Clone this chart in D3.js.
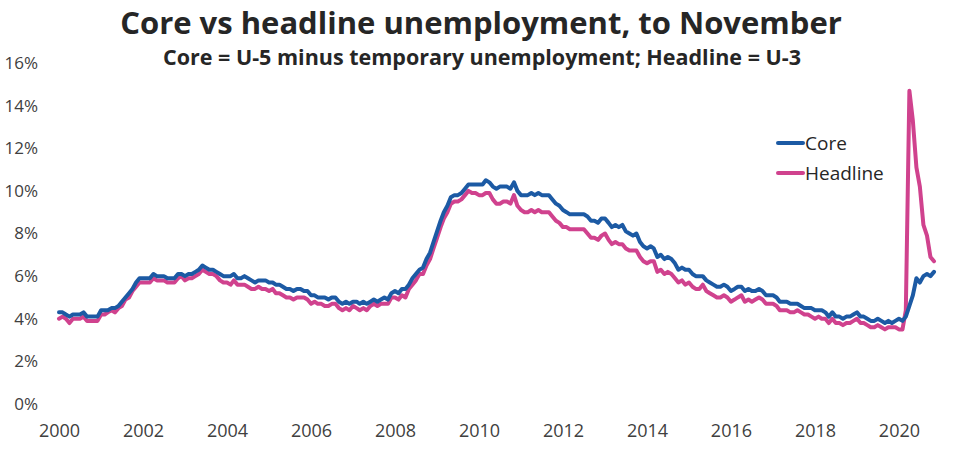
<!DOCTYPE html>
<html>
<head>
<meta charset="utf-8">
<script src="https://cdn.jsdelivr.net/npm/d3@7"></script>
<style>
  html, body { margin: 0; padding: 0; background: #fff; }
  svg text { font-family: "Open Sans", sans-serif; }
</style>
</head>
<body>
<div id="chart"></div>
<script>
// monthly, Jan 2000 .. Nov 2020
const startMonth = new Date(2000, 0, 1);

const headline = [
  4.0, 4.1, 4.0, 3.8, 4.0, 4.0, 4.0, 4.1, 3.9, 3.9, 3.9, 3.9,
  4.2, 4.2, 4.3, 4.4, 4.3, 4.5, 4.6, 4.9, 5.0, 5.3, 5.5, 5.7,
  5.7, 5.7, 5.7, 5.9, 5.8, 5.8, 5.8, 5.7, 5.7, 5.7, 5.9, 6.0,
  5.8, 5.9, 5.9, 6.0, 6.1, 6.3, 6.2, 6.1, 6.1, 6.0, 5.8, 5.7,
  5.7, 5.6, 5.8, 5.6, 5.6, 5.6, 5.5, 5.4, 5.4, 5.5, 5.4, 5.4,
  5.3, 5.4, 5.2, 5.2, 5.1, 5.0, 5.0, 4.9, 5.0, 5.0, 5.0, 4.9,
  4.7, 4.8, 4.7, 4.7, 4.6, 4.6, 4.7, 4.7, 4.5, 4.4, 4.5, 4.4,
  4.6, 4.5, 4.4, 4.5, 4.4, 4.6, 4.7, 4.6, 4.7, 4.7, 4.7, 5.0,
  5.0, 4.9, 5.1, 5.0, 5.4, 5.6, 5.8, 6.1, 6.1, 6.5, 6.8, 7.3,
  7.8, 8.3, 8.7, 9.0, 9.4, 9.5, 9.5, 9.6, 9.8, 10.0, 9.9, 9.9,
  9.8, 9.8, 9.9, 9.9, 9.6, 9.4, 9.4, 9.5, 9.5, 9.4, 9.8, 9.3,
  9.1, 9.0, 9.0, 9.1, 9.0, 9.1, 9.0, 9.0, 9.0, 8.8, 8.6, 8.5,
  8.3, 8.3, 8.2, 8.2, 8.2, 8.2, 8.2, 8.0, 7.8, 7.8, 7.7, 7.9,
  8.0, 7.7, 7.5, 7.6, 7.5, 7.5, 7.3, 7.2, 7.2, 7.2, 6.9, 6.7,
  6.6, 6.7, 6.7, 6.2, 6.3, 6.1, 6.2, 6.1, 5.9, 5.7, 5.8, 5.6,
  5.7, 5.5, 5.4, 5.4, 5.6, 5.3, 5.2, 5.1, 5.0, 5.0, 5.1, 5.0,
  4.8, 4.9, 5.0, 5.1, 4.8, 4.9, 4.8, 4.9, 5.0, 4.9, 4.7, 4.7,
  4.7, 4.6, 4.4, 4.4, 4.4, 4.3, 4.3, 4.4, 4.3, 4.2, 4.2, 4.1,
  4.0, 4.1, 4.0, 4.0, 3.8, 4.0, 3.8, 3.8, 3.7, 3.8, 3.8, 3.9,
  4.0, 3.8, 3.8, 3.7, 3.6, 3.6, 3.7, 3.6, 3.5, 3.6, 3.6, 3.6,
  3.5, 3.5, 4.4, 14.7, 13.3, 11.1, 10.2, 8.4, 7.9, 6.9, 6.7
];

const core = [
  4.3, 4.3, 4.2, 4.1, 4.2, 4.2, 4.2, 4.3, 4.1, 4.1, 4.1, 4.1,
  4.4, 4.4, 4.4, 4.5, 4.5, 4.6, 4.8, 5.0, 5.2, 5.4, 5.7, 5.9,
  5.9, 5.9, 5.9, 6.1, 6.0, 6.0, 6.0, 5.9, 5.9, 5.9, 6.1, 6.1,
  6.0, 6.1, 6.1, 6.2, 6.3, 6.5, 6.4, 6.3, 6.3, 6.2, 6.1, 6.0,
  6.0, 6.0, 6.1, 5.9, 5.9, 6.0, 5.9, 5.8, 5.7, 5.8, 5.8, 5.8,
  5.7, 5.7, 5.6, 5.6, 5.5, 5.4, 5.4, 5.3, 5.4, 5.4, 5.3, 5.3,
  5.1, 5.1, 5.0, 5.0, 5.0, 4.9, 5.0, 5.0, 4.8, 4.7, 4.8, 4.7,
  4.8, 4.8, 4.7, 4.8, 4.7, 4.8, 4.9, 4.8, 4.9, 5.0, 4.9, 5.2,
  5.3, 5.2, 5.4, 5.4, 5.6, 5.9, 6.1, 6.3, 6.4, 6.8, 7.1, 7.6,
  8.1, 8.6, 9.0, 9.3, 9.7, 9.8, 9.8, 9.9, 10.1, 10.3, 10.3, 10.3,
  10.3, 10.3, 10.5, 10.4, 10.2, 10.1, 10.2, 10.2, 10.2, 10.1, 10.4, 10.0,
  9.8, 9.8, 9.8, 9.9, 9.8, 9.9, 9.8, 9.8, 9.8, 9.6, 9.4, 9.3,
  9.1, 9.0, 8.9, 8.9, 8.9, 8.9, 8.9, 8.8, 8.6, 8.6, 8.5, 8.7,
  8.7, 8.5, 8.3, 8.4, 8.3, 8.4, 8.1, 8.0, 7.9, 8.0, 7.6, 7.4,
  7.3, 7.4, 7.3, 6.9, 7.0, 6.8, 6.9, 6.8, 6.6, 6.3, 6.4, 6.3,
  6.3, 6.1, 6.0, 6.0, 6.0, 5.8, 5.7, 5.6, 5.5, 5.5, 5.6, 5.5,
  5.3, 5.4, 5.5, 5.5, 5.3, 5.4, 5.3, 5.3, 5.4, 5.3, 5.1, 5.1,
  5.1, 5.0, 4.8, 4.8, 4.8, 4.7, 4.7, 4.7, 4.6, 4.5, 4.5, 4.5,
  4.4, 4.4, 4.4, 4.3, 4.1, 4.3, 4.1, 4.1, 4.0, 4.1, 4.1, 4.2,
  4.3, 4.1, 4.1, 4.0, 3.9, 3.9, 4.0, 3.9, 3.8, 3.9, 3.8, 3.9,
  4.0, 3.9, 4.1, 4.6, 5.1, 5.9, 5.7, 6.0, 6.1, 6.0, 6.2
];

const yTicks = [0, 2, 4, 6, 8, 10, 12, 14, 16];
const xTickYears = [2000, 2002, 2004, 2006, 2008, 2010, 2012, 2014, 2016, 2018, 2020];

const seriesNames = ['Core', 'Headline'];
const seriesColors = ['#1c5aa4', '#d0428e'];

const width = 959;
const height = 456;

const months = core.map((_, i) => d3.timeMonth.offset(startMonth, i));

const x = d3.scaleTime()
  .domain([months[0], months[months.length - 1]])
  .range([59, 934]);

const y = d3.scaleLinear()
  .domain([0, 16])
  .range([404, 63]);

const svg = d3.select('#chart')
  .append('svg')
  .attr('width', width)
  .attr('height', height);

// titles
svg.append('text')
  .attr('x', 481)
  .attr('y', 34)
  .attr('text-anchor', 'middle')
  .attr('font-size', 31)
  .attr('font-weight', 700)
  .attr('fill', '#262626')
  .text('Core vs headline unemployment, to November');

svg.append('text')
  .attr('x', 482)
  .attr('y', 65)
  .attr('text-anchor', 'middle')
  .attr('font-size', 21.5)
  .attr('font-weight', 700)
  .attr('fill', '#262626')
  .text('Core = U-5 minus temporary unemployment; Headline = U-3');

// y axis, labels only
const yAxis = svg.append('g')
  .attr('transform', 'translate(38,0)')
  .call(d3.axisLeft(y).tickValues(yTicks).tickSize(0).tickPadding(0).tickFormat(d => d + '%'));
yAxis.select('.domain').remove();
yAxis.selectAll('text')
  .attr('font-size', 17)
  .attr('fill', '#404040')
  .style('font-family', '"Open Sans", sans-serif');

// x axis, labels only
const xAxis = svg.append('g')
  .attr('transform', 'translate(0,420)')
  .call(d3.axisBottom(x)
    .tickValues(xTickYears.map(yr => new Date(yr, 0, 1)))
    .tickSize(0)
    .tickPadding(4)
    .tickFormat(d3.timeFormat('%Y')));
xAxis.select('.domain').remove();
xAxis.selectAll('text')
  .attr('font-size', 18)
  .attr('fill', '#404040')
  .style('font-family', '"Open Sans", sans-serif');

// lines
const line = d3.line()
  .x((d, i) => x(months[i]))
  .y(d => y(d));

[headline, core].forEach((values, k) => {
  svg.append('path')
    .datum(values)
    .attr('fill', 'none')
    .attr('stroke', seriesColors[1 - k])
    .attr('stroke-width', 4)
    .attr('stroke-linejoin', 'round')
    .attr('stroke-linecap', 'round')
    .attr('d', line);
});

// legend
const legend = svg.append('g')
  .attr('transform', 'translate(777,143)');

seriesNames.forEach((name, i) => {
  const row = legend.append('g').attr('transform', `translate(0,${i * 30})`);
  row.append('line')
    .attr('x1', 1).attr('x2', 26)
    .attr('stroke', seriesColors[i])
    .attr('stroke-width', 4)
    .attr('stroke-linecap', 'round');
  row.append('text')
    .attr('x', 28)
    .attr('dy', '0.35em')
    .attr('font-size', 19)
    .attr('fill', '#262626')
    .text(name);
});
</script>
</body>
</html>
